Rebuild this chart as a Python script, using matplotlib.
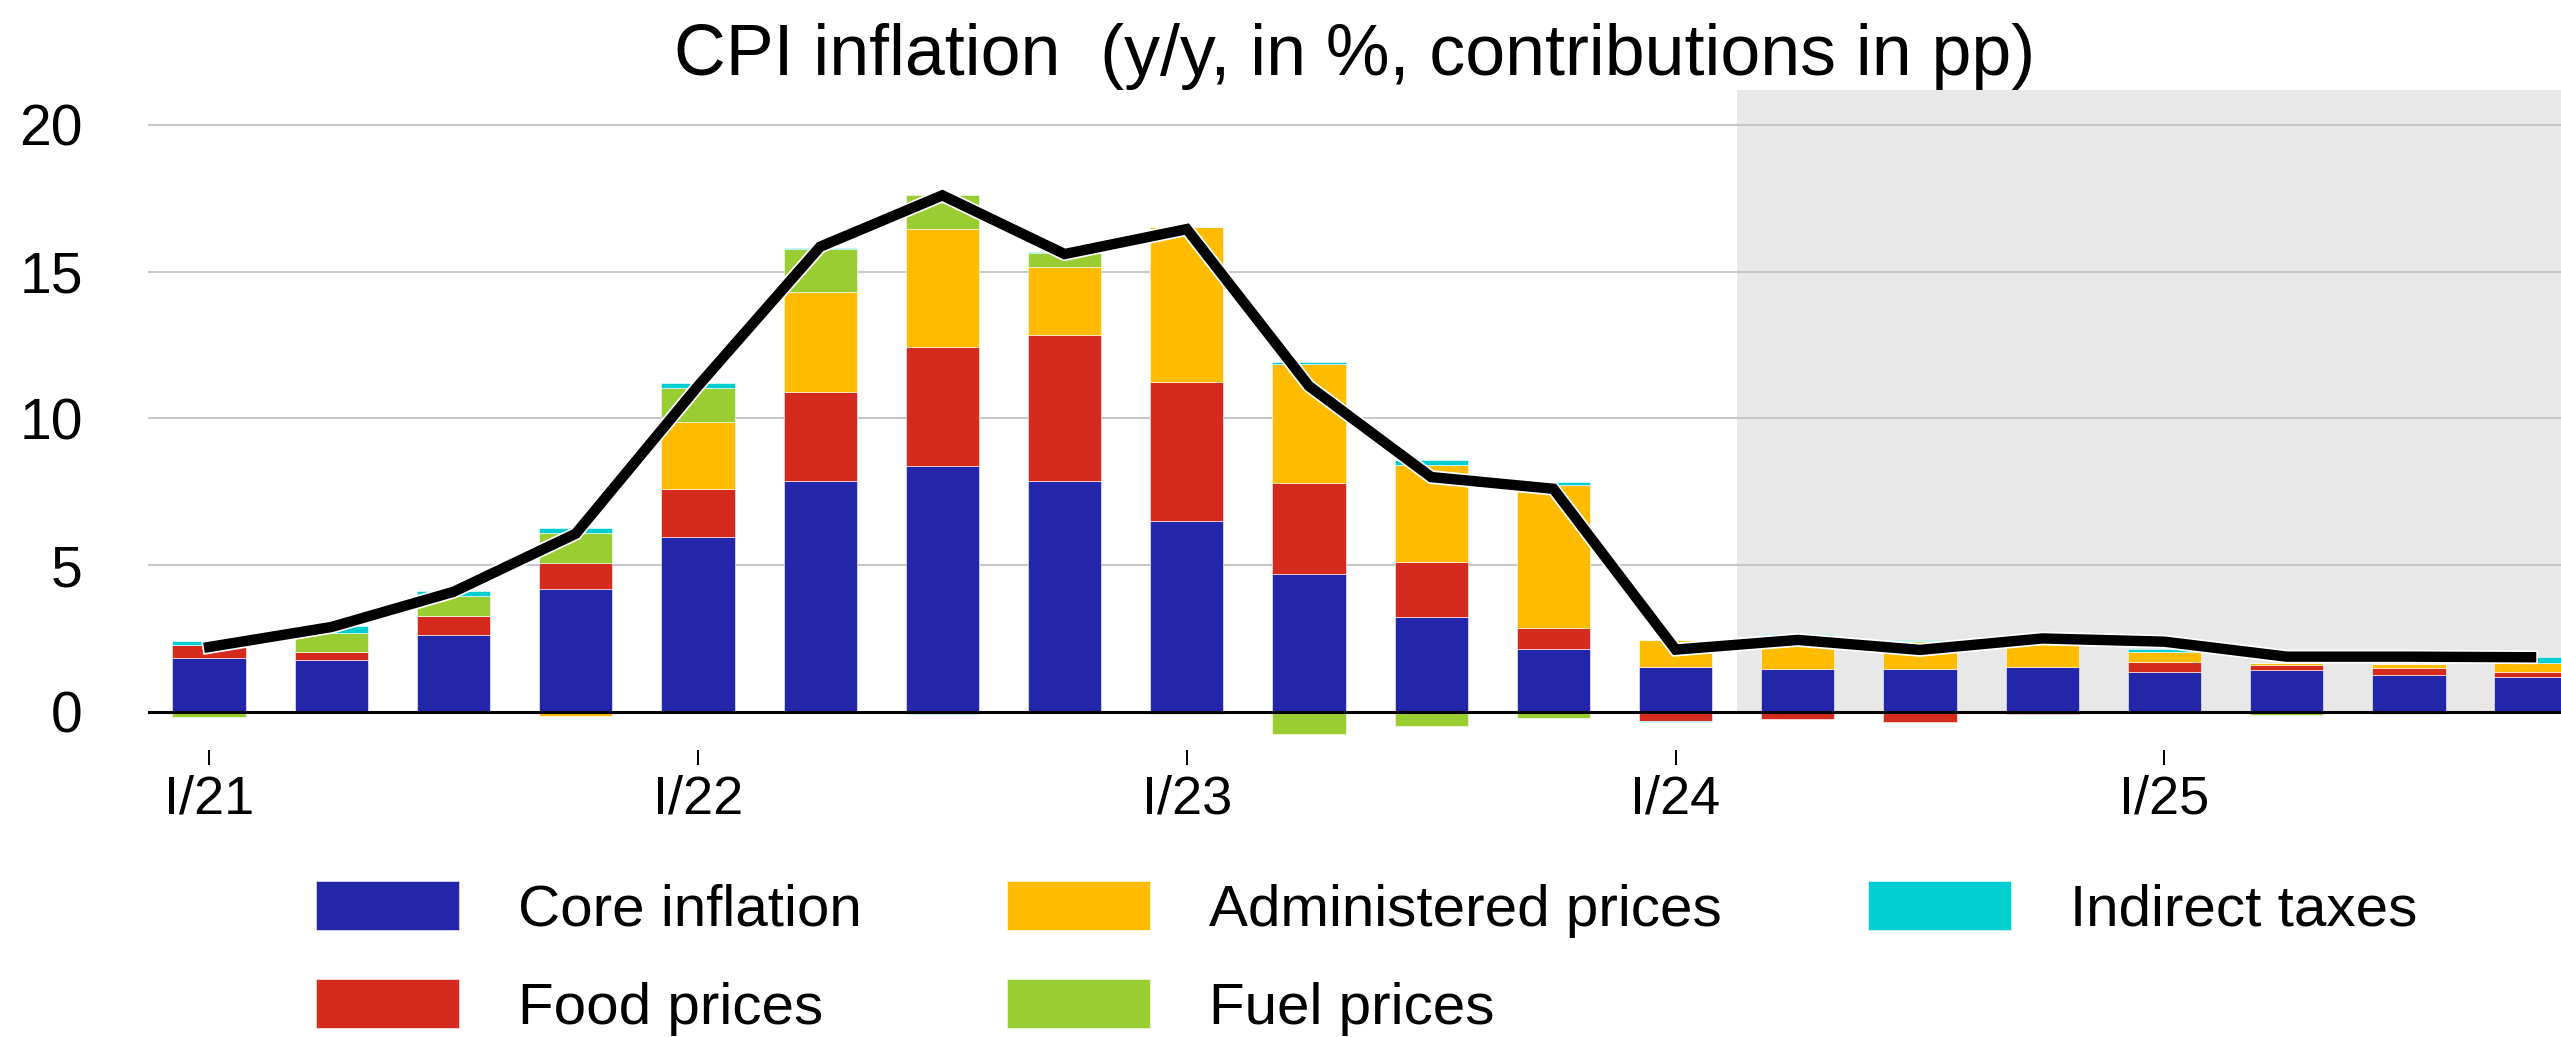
import numpy as np
import matplotlib
matplotlib.use("Agg")
import matplotlib.pyplot as plt
import matplotlib.patheffects as pe

plt.rcParams['font.family'] = ['Liberation Sans', 'DejaVu Sans']

quarters = ['I/21', 'II/21', 'III/21', 'IV/21', 'I/22', 'II/22', 'III/22', 'IV/22',
            'I/23', 'II/23', 'III/23', 'IV/23', 'I/24', 'II/24', 'III/24', 'IV/24',
            'I/25', 'II/25', 'III/25', 'IV/25']

core = [1.85, 1.78, 2.63, 4.20, 5.97, 7.85, 8.37, 7.85, 6.49, 4.68,
        3.22, 2.15, 1.52, 1.45, 1.45, 1.52, 1.34, 1.41, 1.27, 1.17]
food = [0.42, 0.25, 0.64, 0.87, 1.64, 3.05, 4.07, 4.98, 4.76, 3.12,
        1.90, 0.71, -0.32, -0.23, -0.34, -0.09, 0.37, 0.17, 0.24, 0.17]
admin = [0.0, 0.0, 0.0, -0.14, 2.25, 3.39, 4.03, 2.32, 5.26, 4.06,
         3.29, 4.87, 0.93, 1.16, 0.95, 0.98, 0.34, 0.08, 0.12, 0.34]
fuel = [-0.18, 0.66, 0.69, 1.01, 1.19, 1.47, 1.14, 0.48, -0.08, -0.75,
        -0.49, -0.22, 0.0, 0.0, 0.0, 0.0, 0.0, -0.12, -0.08, 0.0]
taxes = [0.13, 0.24, 0.17, 0.17, 0.17, 0.05, -0.07, 0.05, 0.0, 0.06,
         0.18, 0.10, -0.02, 0.05, 0.05, 0.0, 0.08, 0.0, 0.0, 0.19]
total = [2.21, 2.89, 4.09, 6.07, 11.1, 15.85, 17.6, 15.6, 16.45, 11.1,
         8.0, 7.6, 2.12, 2.45, 2.11, 2.5, 2.39, 1.88, 1.88, 1.86]

components = [core, food, admin, fuel, taxes]
names = ['Core inflation', 'Food prices', 'Administered prices', 'Fuel prices', 'Indirect taxes']
colors = ['#2326A8', '#D52B1E', '#FFBB00', '#9ACD32', '#00CED1']

x = np.arange(len(quarters))
ylo, yhi = -1.3, 21.19

fig = plt.figure(figsize=(25.61, 10.37), dpi=100)
ax = fig.add_axes([0.0578, 0.2768, 0.9422, 0.6364])

# forecast area, only above the zero line
ax.fill_between([12.5, 20], 0, yhi, color='#E8E8E8', zorder=0, lw=0)

pos_bottom = np.zeros(len(x))
neg_bottom = np.zeros(len(x))
for vals, name, col in zip(components, names, colors):
    v = np.array(vals)
    bottom = np.where(v >= 0, pos_bottom, neg_bottom)
    ax.bar(x, v, 0.6, bottom=bottom, color=col, label=name,
           edgecolor='white', linewidth=0.4, zorder=2)
    pos_bottom += np.where(v > 0, v, 0)
    neg_bottom += np.where(v < 0, v, 0)

ax.axhline(0, color='black', lw=2.2, zorder=3)
ax.plot(x, total, color='black', lw=7.5, zorder=4, solid_joinstyle='miter',
        path_effects=[pe.Stroke(linewidth=10, foreground='white'), pe.Normal()])

ax.set_xlim(-0.5, 19.245)
ax.set_ylim(ylo, yhi)
ax.set_yticks([0, 5, 10, 15, 20])
ax.yaxis.grid(True, color='#C8C8C8', lw=1.5, zorder=1)
ax.set_axisbelow(True)
ax.set_xticks(x[::4])
ax.set_xticklabels(quarters[::4])
ax.tick_params(axis='x', direction='out', length=10.8, width=1.4, pad=7, labelsize=39)
ax.tick_params(axis='y', length=0, pad=47, labelsize=41)
for s in ax.spines.values():
    s.set_visible(False)

ax.set_title('CPI inflation  (y/y, in %, contributions in pp)', fontsize=51.7, pad=4)

handles, labels = ax.get_legend_handles_labels()
fig.legend(handles, labels, loc='upper left', bbox_to_anchor=(0.1234, 0.150),
           ncol=3, frameon=False, fontsize=42, handlelength=2.45, handleheight=0.9,
           handletextpad=1.01, columnspacing=2.5, labelspacing=0.71,
           borderpad=0, borderaxespad=0)

fig.savefig('out.png', dpi=100)
